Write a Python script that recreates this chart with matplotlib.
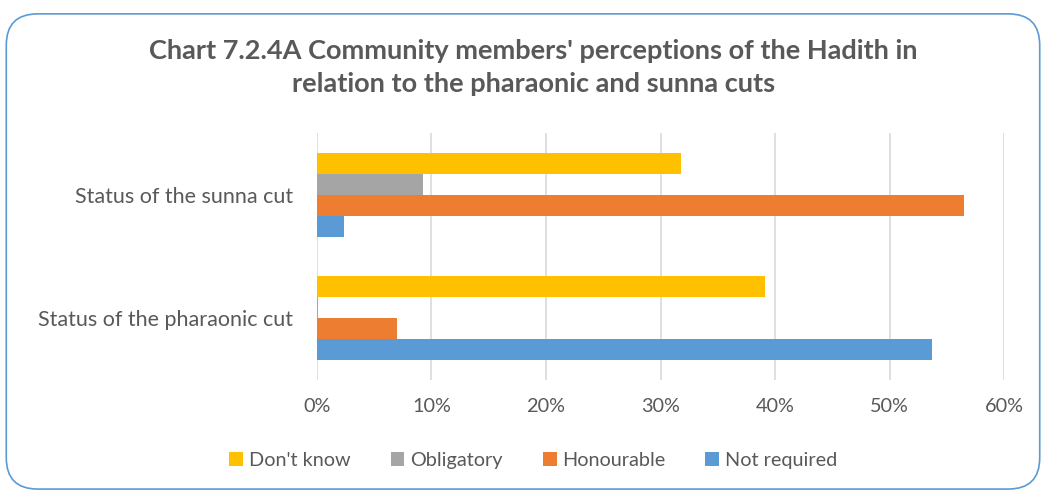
import matplotlib.pyplot as plt
import numpy as np
from matplotlib.patches import FancyBboxPatch

plt.rcParams['font.family'] = ['Lato', 'DejaVu Sans']

# %% data
categories = ['Status of the pharaonic cut', 'Status of the sunna cut']
series = ["Don't know", 'Obligatory', 'Honourable', 'Not required']
dont_know = [39.1, 31.8]
obligatory = [0.1, 9.3]
honourable = [7.0, 56.5]
not_required = [53.7, 2.4]
ticks = [0, 10, 20, 30, 40, 50, 60]

colors = ['#FFC000', '#A5A5A5', '#ED7D31', '#5B9BD5']
values = [dont_know, obligatory, honourable, not_required]
grey = '#595959'

# %% plot
fig = plt.figure(figsize=(10.46, 4.95), dpi=100)
ax = fig.add_axes([0.303, 0.232, 0.657, 0.499])

y = np.arange(len(categories))
h = 0.17
offsets = [1.5, 0.5, -0.5, -1.5]
for vals, col, off, name in zip(values, colors, offsets, series):
    ax.barh(y + off * h, vals, height=h, color=col, label=name, zorder=3)

ax.set_xlim(0, 60)
ax.set_ylim(-0.5, 1.5)
ax.set_xticks(ticks)
ax.set_xticklabels([f'{t}%' for t in ticks], color=grey, fontsize=14.3)
ax.set_yticks(y)
ax.set_yticklabels(categories, color=grey, fontsize=15.5)
ax.tick_params(length=0, pad=17)
ax.tick_params(axis='x', pad=13)
ax.grid(axis='x', color='#D9D9D9', lw=1.2, zorder=0)
for s in ax.spines.values():
    s.set_visible(False)

fig.text(0.51, 0.864, "Chart 7.2.4A Community members' perceptions of the Hadith in\nrelation to the pharaonic and sunna cuts",
         ha='center', va='center', fontsize=19.5, fontweight='bold', color=grey, linespacing=1.45)

ax.legend(loc='center', bbox_to_anchor=(0.51, 0.07), bbox_transform=fig.transFigure,
          ncol=4, frameon=False, fontsize=14.3, handlelength=0.7, handleheight=0.7,
          columnspacing=2.0, handletextpad=0.3, labelcolor=grey)

box = FancyBboxPatch((0.006, 0.012), 0.988, 0.96, boxstyle='round,pad=0,rounding_size=0.03',
                     transform=fig.transFigure, fill=False, ec='#5B9BD5', lw=1.2,
                     mutation_aspect=1046/495)
fig.patches.append(box)

fig.savefig('out.png', dpi=100)
